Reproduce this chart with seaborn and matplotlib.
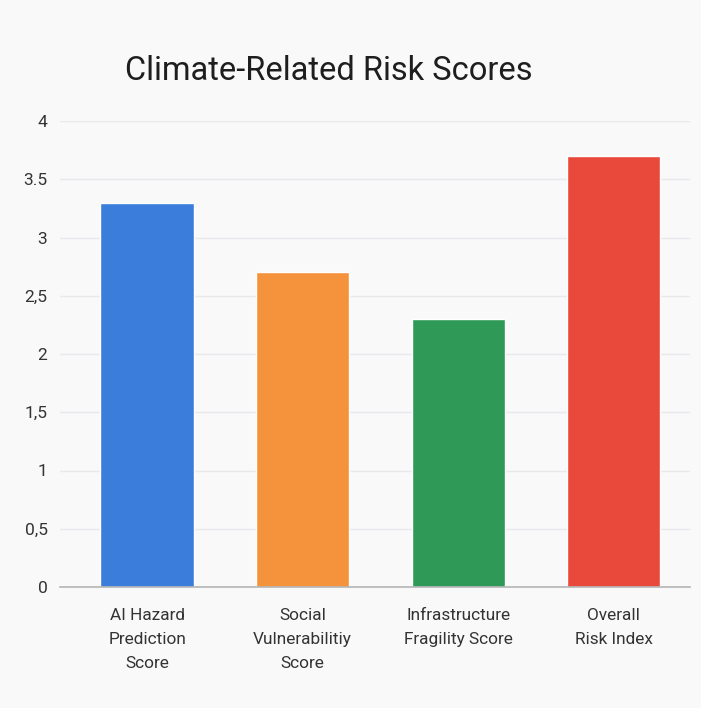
import matplotlib
matplotlib.use("Agg")
import matplotlib.pyplot as plt
import seaborn as sns
import pandas as pd

categories = ["AI Hazard\nPrediction\nScore", "Social\nVulnerabilitiy\nScore",
              "Infrastructure\nFragility Score", "Overall\nRisk Index"]
scores = [3.3, 2.7, 2.3, 3.7]
colors = ["#3b7ddb", "#f5933d", "#2f9a58", "#e8493a"]
ytick_values = [0, 0.5, 1, 1.5, 2, 2.5, 3, 3.5, 4]
ytick_labels = ["0", "0,5", "1", "1,5", "2", "2,5", "3", "3.5", "4"]
title = "Climate-Related Risk Scores"

sns.set_theme(style="white")
plt.rcParams["font.family"] = ["Roboto", "DejaVu Sans"]

bg = "#f9f9fa"
fig = plt.figure(figsize=(7.01, 7.08), dpi=100, facecolor=bg)
ax = fig.add_axes([60 / 701, 1 - 587 / 708, 630 / 701, 466 / 708])
ax.set_facecolor(bg)

df = pd.DataFrame({"category": categories, "score": scores})
sns.barplot(data=df, x="category", y="score", hue="category",
            palette=colors, legend=False, width=0.6, saturation=1, ax=ax)

ax.set_ylim(0, 4)
ax.set_xlim(-0.56, 3.49)
ax.set_yticks(ytick_values)
ax.set_yticklabels(ytick_labels, fontsize=12.5, color="#333333")
ax.set_xticks(range(len(categories)))
ax.set_xticklabels(categories, fontsize=12.4, color="#333333", linespacing=1.74)
ax.yaxis.grid(True, color="#e9e9ec", linewidth=1)
ax.set_axisbelow(True)
for side in ["top", "right", "left"]:
    ax.spines[side].set_visible(False)
ax.spines["bottom"].set_color("#b5b5b5")
ax.spines["bottom"].set_linewidth(1.2)
ax.tick_params(axis="both", length=0)
ax.tick_params(axis="y", pad=9)
ax.tick_params(axis="x", pad=15)
ax.set_xlabel("")
ax.set_ylabel("")

fig.text(329 / 701, 1 - 71 / 708, title, ha="center", va="center",
         fontsize=23.5, color="#1e1e1e")

fig.savefig("out.png", dpi=100, facecolor=bg)
